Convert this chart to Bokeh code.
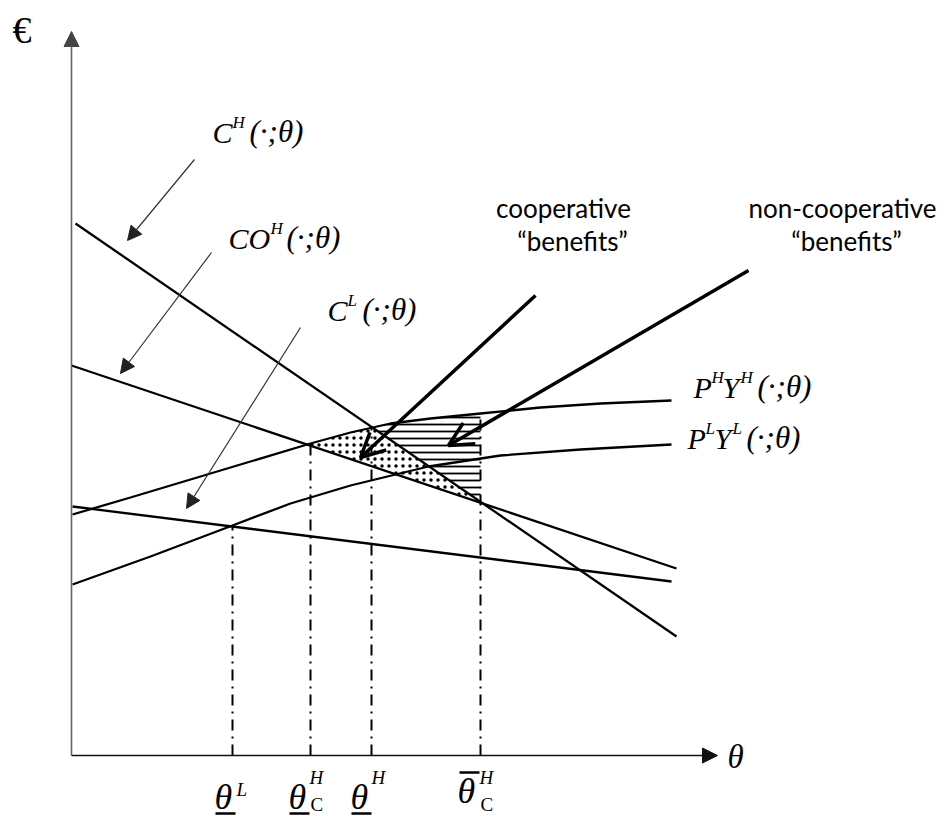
import numpy as np
from bokeh.plotting import figure
from bokeh.models import Range1d, Arrow, NormalHead, OpenHead, Label
from bokeh.embed import file_html
from bokeh.resources import INLINE

# ---- schematic data (diagram units: origin at axis crossing, 1 unit ~ 1 px) ----
ch_x = [4, 605]
ch_y = [532, 119]            # C^H(.;theta)
coh_x = [0, 605]
coh_y = [390, 187]           # CO^H(.;theta)
cl_x = [1, 600]
cl_y = [249, 174]            # C^L(.;theta)
phyh_x = [1, 59, 119, 179, 239, 279, 319, 359, 409, 469, 529, 600]
phyh_y = [241, 258, 276, 294, 312, 323, 332, 337, 342, 348, 352, 355]   # P^H Y^H
plyl_x = [1, 79, 161, 219, 279, 357, 429, 509, 600]
plyl_y = [171, 199, 230, 252, 270, 289, 300, 306, 311]                  # P^L Y^L

theta_L = 161
theta_C_H = 239
theta_H = 300
theta_bar_C_H = 409

# pointer arrows (start x, start y, end x, end y)
thin_arrows = [(123, 596, 56, 515), (140, 503, 49, 382), (229, 428, 115, 247)]
thick_arrows = [(464, 460, 289, 298), (677, 485, 377, 310)]
axis_top = 724
axis_right = 646

OX, OY = 71, 755  # pixel position of origin (for text placement helper)

def CH(x): return np.interp(x, ch_x, ch_y)
def COH(x): return np.interp(x, coh_x, coh_y)
def CL(x): return np.interp(x, cl_x, cl_y)
def PH(x): return np.interp(x, phyh_x, phyh_y)
def PL(x): return np.interp(x, plyl_x, plyl_y)

p = figure(width=945, height=816, x_range=Range1d(-OX, 945 - OX), y_range=Range1d(OY - 816, OY),
           output_backend="svg", toolbar_location=None, min_border=0,
           x_axis_type=None, y_axis_type=None)
p.grid.visible = False
p.outline_line_color = None

# ---- shaded regions ----
xa = np.linspace(theta_C_H, theta_H, 25)
dot_x = list(xa) + [theta_bar_C_H, theta_C_H]
dot_y = list(PH(xa)) + [float(CH(theta_bar_C_H)), float(COH(theta_C_H))]
p.patch(dot_x, dot_y, fill_color="white", line_color=None,
        hatch_pattern="dot", hatch_scale=7, hatch_weight=1.0, hatch_color="black")

xb = np.linspace(theta_H, theta_bar_C_H, 25)
hat_x = list(xb) + [theta_bar_C_H, theta_H]
hat_y = list(PH(xb)) + [float(CH(theta_bar_C_H)), float(CH(theta_H))]
p.patch(hat_x, hat_y, fill_color="white", line_color=None,
        hatch_pattern="horizontal_line", hatch_scale=7, hatch_weight=1.8, hatch_color="black")

# ---- dash-dot guides ----
tick_x = [theta_L, theta_C_H, theta_H, theta_bar_C_H]
tick_top = [float(CL(theta_L)), float(PH(theta_C_H)), float(PH(theta_H)), float(PH(theta_bar_C_H))]
p.segment(x0=tick_x, y0=[0] * 4, x1=tick_x, y1=tick_top, line_color="black",
          line_width=2, line_dash="11 6 2 6")

# ---- curves ----
for xs, ys in [(ch_x, ch_y), (coh_x, coh_y), (cl_x, cl_y), (phyh_x, phyh_y), (plyl_x, plyl_y)]:
    p.line(xs, ys, line_color="black", line_width=2.3)

# ---- axes ----
p.add_layout(Arrow(end=NormalHead(size=15, fill_color="#444", line_color="#444"),
                   x_start=0, y_start=0, x_end=0, y_end=axis_top, line_color="#666", line_width=1.6))
p.add_layout(Arrow(end=NormalHead(size=15, fill_color="#111", line_color="#111"),
                   x_start=0, y_start=0, x_end=axis_right, y_end=0, line_color="#111", line_width=1.6))

# ---- arrows ----
for (x0, y0, x1, y1) in thin_arrows:
    p.add_layout(Arrow(end=NormalHead(size=14, fill_color="#222", line_color="#222"),
                       x_start=x0, y_start=y0, x_end=x1, y_end=y1, line_color="#333", line_width=1.2))
for (x0, y0, x1, y1) in thick_arrows:
    p.add_layout(Arrow(end=OpenHead(size=24, line_width=3.5, line_color="black"),
                       x_start=x0, y_start=y0, x_end=x1, y_end=y1, line_color="black", line_width=3.5))

# ---- text ----
def txt(px, py, s, size, style="italic", font="Liberation Serif", align="left"):
    shift = 0.25 * size + 3   # compensate renderer's baseline offset
    p.add_layout(Label(x=px - OX, y=OY - (py - shift), text=s, text_font=font, text_font_style=style,
                       text_font_size=f"{size}px", text_baseline="alphabetic",
                       text_align=align, text_color="black"))

txt(12, 42, "€", 38, style="normal")
txt(727, 768, "θ", 33)

# C^H(.;theta)
txt(212, 142, "C", 30); txt(232, 129, "H", 17); txt(249, 142, "(·;θ)", 31)
# CO^H
txt(228, 248, "CO", 30); txt(270, 235, "H", 17); txt(286, 248, "(·;θ)", 31)
# C^L
txt(327, 320, "C", 30); txt(347, 307, "L", 17); txt(362, 320, "(·;θ)", 31)
# P^H Y^H
txt(693, 397, "P", 30); txt(711, 384, "H", 17); txt(722, 397, "Y", 30); txt(740, 384, "H", 17)
txt(757, 397, "(·;θ)", 31)
# P^L Y^L
txt(687, 448, "P", 30); txt(705, 435, "L", 17); txt(714, 448, "Y", 30); txt(732, 435, "L", 17)
txt(746, 448, "(·;θ)", 31)

# benefit labels
txt(563, 217, "cooperative", 26, style="normal", font="Lato", align="center")
txt(572, 250, "“benefits”", 26, style="normal", font="Lato", align="center")
txt(842, 217, "non-cooperative", 26, style="normal", font="Lato", align="center")
txt(846, 250, "“benefits”", 26, style="normal", font="Lato", align="center")

# theta tick labels
txt(214, 808, "θ", 36); txt(236, 797, "L", 19)
txt(288, 808, "θ", 36); txt(309, 785, "H", 19); txt(310, 812, "C", 19, style="normal")
txt(350, 808, "θ", 36); txt(371, 785, "H", 19)
txt(457, 802, "θ", 36); txt(479, 785, "H", 19); txt(480, 812, "C", 19, style="normal")

# under/over bars
p.segment(x0=[215 - OX, 289 - OX, 351 - OX, 459 - OX], y0=[OY - 813, OY - 813, OY - 813, OY - 772],
          x1=[235 - OX, 309 - OX, 371 - OX, 479 - OX], y1=[OY - 813, OY - 813, OY - 813, OY - 772],
          line_color="black", line_width=2.5)

open("out.html", "w").write(file_html(p, INLINE))
